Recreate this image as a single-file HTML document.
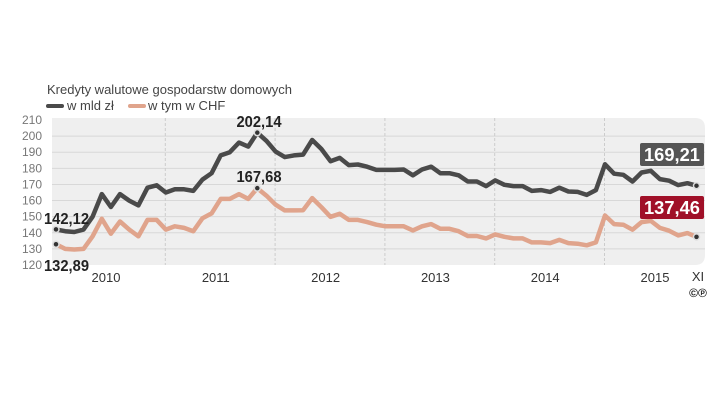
<!DOCTYPE html>
<html><head><meta charset="utf-8"><style>
body{margin:0;background:#fff;width:720px;height:406px;overflow:hidden;font-family:"Liberation Sans",sans-serif}
</style></head><body>
<svg width="720" height="406" xmlns="http://www.w3.org/2000/svg">
<text x="47" y="94" font-size="13" fill="#444">Kredyty walutowe gospodarstw domowych</text>
<g>
<line x1="48" y1="106" x2="62" y2="106" stroke="#4a4a4a" stroke-width="4" stroke-linecap="round"/>
<text x="67" y="110" font-size="13" fill="#444">w mld zł</text>
<line x1="130" y1="106" x2="144" y2="106" stroke="#e0a48c" stroke-width="4" stroke-linecap="round"/>
<text x="148" y="110" font-size="13" fill="#444">w tym w CHF</text>
</g>
<path d="M52,118 H695 Q705,118 705,128 V255 Q705,265 695,265 H52 Z" fill="#efefef"/>
<g id="grid"></g>
<g id="yt"></g>
<g id="xt"></g>
<g id="series"></g>
<text x="698" y="281" font-size="13" fill="#333" text-anchor="middle">XI</text>
<text x="698" y="297" font-size="12" font-weight="bold" fill="#222" text-anchor="middle">©℗</text>
<text x="44" y="224" font-size="16" font-weight="bold" fill="#222" textLength="45" lengthAdjust="spacingAndGlyphs">142,12</text>
<text x="44" y="271" font-size="16" font-weight="bold" fill="#222" textLength="45" lengthAdjust="spacingAndGlyphs">132,89</text>
<text x="259" y="127" font-size="16" font-weight="bold" fill="#222" text-anchor="middle" textLength="45" lengthAdjust="spacingAndGlyphs">202,14</text>
<text x="259" y="182" font-size="16" font-weight="bold" fill="#222" text-anchor="middle" textLength="45" lengthAdjust="spacingAndGlyphs">167,68</text>
<g>
<rect x="640" y="143" width="64" height="23" rx="2" fill="#555"/>
<text x="672" y="161" font-size="18" font-weight="bold" fill="#fff" text-anchor="middle" textLength="56" lengthAdjust="spacingAndGlyphs">169,21</text>
</g>
<g>
<rect x="640" y="196" width="64" height="23" rx="2" fill="#a01028"/>
<text x="672" y="214" font-size="18" font-weight="bold" fill="#fff" text-anchor="middle" textLength="56" lengthAdjust="spacingAndGlyphs">137,46</text>
</g>
</svg>
<script>
const yTicks=[120,130,140,150,160,170,180,190,200,210];
const years=["2010","2011","2012","2013","2014","2015"];
const total=[142.12,141,140.5,142,150,164,156,164,160,157,168,169.5,165,167,167,166,173,177,188,190,196,193.5,202.14,197,190.4,187,188,188.5,197.6,192,184.4,186.5,182,182.4,181,179,179,179,179.3,175.7,179.3,181,177,177,175.7,171.8,171.8,169,172.5,169.8,169,169,166,166.5,165.4,168,165.6,165.4,163.5,166.5,182.5,176.7,176,171.8,177.4,178.5,173.3,172.3,169.6,170.8,169.21];
const chf=[132.89,130,129.6,130,137.8,148.7,139.4,147,142,137.8,148,148,142,144,143,141,149,152,161,161,164,161,167.68,163,157.4,153.9,153.9,154,161.5,155.9,149.9,151.8,148,148,146.6,145,144,144,144,141.5,144,145.4,142.5,142.5,141,138,138,136.5,139,137.5,136.5,136.5,134,134,133.6,135.6,133.6,133.2,132.2,134,150.7,145.4,145,141.9,146.6,147.4,143,141.3,138.4,139.8,137.46];
const NS='http://www.w3.org/2000/svg';
const y=v=>265-(v-120)*145/90;
const x=i=>56+i*9.15;
const mk=(t,a,p)=>{const e=document.createElementNS(NS,t);for(const k in a)e.setAttribute(k,a[k]);document.getElementById(p).appendChild(e);return e;};
yTicks.forEach(v=>{
 if(v>120&&v<210){const l=mk('line',{x1:52,x2:705,y1:y(v),y2:y(v),stroke:'#d8d8d8','stroke-width':1},'grid');
 
 }
 const t=mk('text',{x:42,y:y(v)+4,'font-size':12,fill:'#777','text-anchor':'end'},'yt');t.textContent=v;
 
 
});
years.forEach((yr,k)=>{
 const t=mk('text',{x:x(12*k)+50,y:282,'font-size':13,fill:'#333','text-anchor':'middle'},'xt');t.textContent=yr;
 
 
 if(k>0){const l=mk('line',{x1:x(12*k)-0.5,x2:x(12*k)-0.5,y1:118,y2:265,stroke:'#ccc','stroke-dasharray':'3,2'},'grid');
 
 }
});
function line(d,c,name){
 const p=mk('path',{d:d.map((v,i)=>(i?'L':'M')+x(i).toFixed(1)+','+y(v).toFixed(1)).join(''),fill:'none',stroke:c,'stroke-width':4.5,'stroke-linejoin':'round'},'series');
 
 
 [0,22,d.length-1].forEach(i=>{const m=mk('circle',{cx:x(i),cy:y(d[i]),r:3,fill:'#333',stroke:'#ddd','stroke-width':1.5},'series');
 
 });
}
line(chf,'#e0a48c','series-chf');
line(total,'#4a4a4a','series-total');
</script>
</body></html>
